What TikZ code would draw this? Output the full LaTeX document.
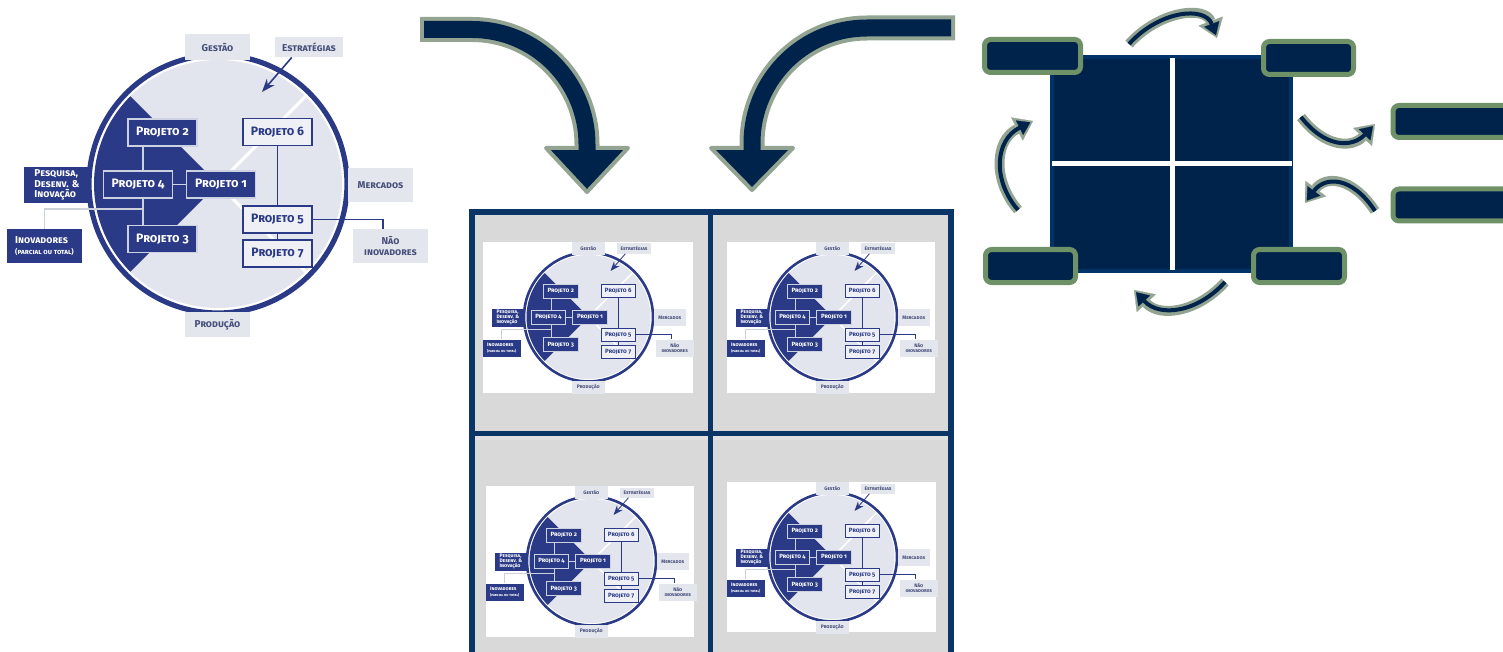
\documentclass[tikz,border=0pt]{standalone}
\usepackage{fontspec}
\setmainfont{Fira Sans}[Numbers=OldStyle]
\usetikzlibrary{arrows.meta,calc}

\definecolor{ringblauw}{HTML}{2B3A86}
\definecolor{schijf}{HTML}{E3E5EE}
\definecolor{vaklicht}{HTML}{E4E6EE}
\definecolor{prjlicht}{HTML}{EEF0F5}
\definecolor{randlicht}{HTML}{CDD2E2}
\definecolor{tekstgrijs}{HTML}{46507A}
\definecolor{lijngrijs}{HTML}{CCD0DC}
\definecolor{pijlblauw}{HTML}{00234B}
\definecolor{pijlrand}{HTML}{93A592}
\definecolor{kadergroen}{HTML}{6E9168}
\definecolor{kaderblauw}{HTML}{0B3566}
\definecolor{celgrijs}{HTML}{D9D9D9}
\definecolor{vlakrand}{HTML}{003468}

\tikzset{
  lbl/.style={fill=vaklicht, text=tekstgrijs, inner sep=0pt, align=center,
    font=\fontsize{5}{5.3}\selectfont\bfseries\scshape},
  lbldonker/.style={lbl, fill=ringblauw, text=white},
  prj/.style={draw=ringblauw, fill=prjlicht, text=ringblauw, line width=\lf*0.8pt,
    minimum width=34.5pt, minimum height=13.5pt, inner sep=0pt,
    font=\fontsize{6.1}{7}\selectfont\bfseries\scshape},
  prjdonker/.style={prj, draw=randlicht, fill=ringblauw, text=white},
  grootrand/.style={draw=pijlrand, line width=12.5pt},
  grootkern/.style={draw=pijlblauw, line width=8.5pt},
  hoek/.style={draw=kadergroen, fill=pijlblauw, line width=2.5pt, rounded corners=3pt,
    minimum height=16.5pt, inner sep=0pt},
  krom/.style={draw=pijlblauw, line width=2pt, -{Triangle[length=6pt,width=8pt,line width=0.1pt]},
    shorten >=1.5pt,
    preaction={draw=pijlrand, line width=5pt, shorten >=0pt,
      -{Triangle[length=9pt,width=13pt,line width=0.1pt]}}},
  pics/ciclo/.style={code={
    \def\lf{#1}
    % schijf met donkere sector
    \fill[schijf] (0,0) circle (62pt);
    \fill[ringblauw] (0,0) -- (135:62pt) arc (135:225:62pt) -- cycle;
    \draw[white, line width=\lf*1.5pt] (0,0) -- (45:62pt) (0,0) -- (-45:62pt);
    \draw[ringblauw, line width=\lf*2.6pt] (0,0) circle (64.5pt);
    % velden rond de cirkel
    \node[lbl, minimum width=32.5pt, minimum height=13pt] (-gestao) at (-0.5,-137) {Gestão};
    \node[lbl, minimum width=34pt, minimum height=10pt] (-estr) at (91,-137) {Estratégias};
    \node[lbl, minimum width=32.5pt, minimum height=17pt] (-merc) at (162.5,1) {Mercados};
    \node[lbl, minimum width=37.5pt, minimum height=17pt] (-nao) at (172.5,62) {Não\\inovadores};
    \node[lbl, minimum width=32.5pt, minimum height=12.5pt] (-prod) at (-0.5,140.5) {Produção};
    \node[lbldonker, align=left, minimum width=33pt, minimum height=18pt] (-pesq) at (-161,1)
      {Pesquisa,\\Desenv. \&\\Inovação};
    \node[lbldonker, align=left, minimum width=37.5pt, minimum height=17pt] (-inov) at (-173.5,62)
      {Inovadores\\{\fontsize{3.6}{4.4}\selectfont(parcial ou total)}};
    % projetos
    \node[prjdonker] (-p2) at (-55.5,-51.5) {Projeto 2};
    \node[prjdonker] (-p4) at (-80,0.5) {Projeto 4};
    \node[prjdonker] (-p1) at (3,0.5) {Projeto 1};
    \node[prjdonker] (-p3) at (-55.5,55) {Projeto 3};
    \node[prj] (-p6) at (59.5,-52) {Projeto 6};
    \node[prj] (-p5) at (59.5,35.5) {Projeto 5};
    \node[prj] (-p7) at (59.5,69.5) {Projeto 7};
    \coordinate (-doel) at (44,-92);
    % verbindingen
    \draw[randlicht, line width=\lf*0.8pt] ($(-p2.south west)!0.22!(-p2.south east)$) coordinate (-as)
      -- (-as |- -p4.north) (-as |- -p4.south) -- (-as |- -p3.north);
    \draw[randlicht, line width=\lf*0.8pt] (-p4.east) -- (-p1.west);
    \draw[lijngrijs, line width=\lf*0.8pt] (-inov.north) |- (-as |- 0,25);
    \draw[ringblauw, line width=\lf*0.8pt] (-p6.south) -- (-p5.north) (-p5.south) -- (-p7.north);
    \draw[ringblauw, line width=\lf*0.8pt] (-p5.east) -| ($(-nao.north west)!0.4!(-nao.north east)$);
    \draw[ringblauw, line width=\lf*0.8pt, -Stealth] ($(-estr.south west)!0.25!(-estr.south east)$) -- (-doel);
  }}
}

\begin{document}
\begin{tikzpicture}[x=0.5pt, y=-0.5pt]
  \useasboundingbox (0,0) rectangle (1503,652);

  % het originele schema
  \pic (orig) at (218,184) {ciclo=1};

  % grote pijlen
  \draw[grootrand] (420,29.5) -- (472,29.5) arc (90:0:57.5pt) -- (587,147);
  \filldraw[fill=pijlblauw, draw=pijlrand, line width=2pt, line join=round] (546,148) -- (628,148) -- (587,192) -- cycle;
  \draw[grootkern] (424,29.5) -- (472,29.5) arc (90:0:57.5pt) -- (587,151);
  \draw[grootrand] (955,28) -- (867,28) arc (90:180:57.5pt) -- (752,147);
  \filldraw[fill=pijlblauw, draw=pijlrand, line width=2pt, line join=round] (711,148) -- (793,148) -- (752,190) -- cycle;
  \draw[grootkern] (951,28) -- (867,28) arc (90:180:57.5pt) -- (752,151);

  % raster met vier kopieen
  \fill[celgrijs] (472,212.5) rectangle (950.5,665);
  \fill[black!12] (474,436) rectangle (949,440);
  \draw[kaderblauw, line width=3pt] (472,665) |- (950.5,212.5) -- (950.5,665);
  \draw[kaderblauw, line width=2.5pt] (710.5,212.5) -- (710.5,665) (472,433.5) -- (950.5,433.5);
  \fill[white] (483,242) rectangle (693,393);
  \fill[white] (727,242) rectangle (935,393);
  \fill[white] (486,486) rectangle (694,637);
  \fill[white] (727,482) rectangle (936,632);
  \pic[scale=0.5, transform shape] (lb) at (588.5,317) {ciclo=0.5};
  \pic[scale=0.5, transform shape] (rb) at (832.5,317) {ciclo=0.5};
  \pic[scale=0.5, transform shape] (lo) at (591.5,561) {ciclo=0.5};
  \pic[scale=0.5, transform shape] (ro) at (832.5,557) {ciclo=0.5};

  % kwadrant met hoekvelden
  \fill[pijlblauw] (1050,55) rectangle (1293,273);
  \draw[vlakrand, line width=2pt] (1052,57) rectangle (1291,271);
  \draw[white, line width=2.5pt] (1172,58) -- (1172,270) (1052,164) -- (1292,164);
  \node[hoek, minimum width=48pt] (hlb) at (1032.5,56) {};
  \node[hoek, minimum width=45pt] (hrb) at (1308.5,58) {};
  \node[hoek, minimum width=45pt] (hlo) at (1030.5,266) {};
  \node[hoek, minimum width=45.5pt] (hro) at (1299,266) {};
  \node[hoek, minimum width=80pt, minimum height=16pt, anchor=west] (r1) at (1390.5,121.5) {};
  \node[hoek, minimum width=80pt, minimum height=16pt, anchor=west] (r2) at (1390.5,205) {};

  % kromme pijlen
  \coordinate (k1a) at (1129,44);  \coordinate (k1b) at (1217,38);
  \coordinate (k2a) at (1018,210); \coordinate (k2b) at (1033,121);
  \coordinate (k3a) at (1301,117); \coordinate (k3b) at (1375,124);
  \coordinate (k4a) at (1375,211); \coordinate (k4b) at (1305,203);
  \coordinate (k5a) at (1225,282); \coordinate (k5b) at (1134,290);
  \draw[krom] (k1a) .. controls (1160,10) and (1205,6) .. (k1b);
  \draw[krom] (k2a) .. controls (992,180) and (995,140) .. (k2b);
  \draw[krom] (k3a) .. controls (1325,148) and (1352,148) .. (k3b);
  \draw[krom] (k4a) .. controls (1352,176) and (1325,176) .. (k4b);
  \draw[krom] (k5a) .. controls (1198,312) and (1160,318) .. (k5b);
\end{tikzpicture}
\end{document}
